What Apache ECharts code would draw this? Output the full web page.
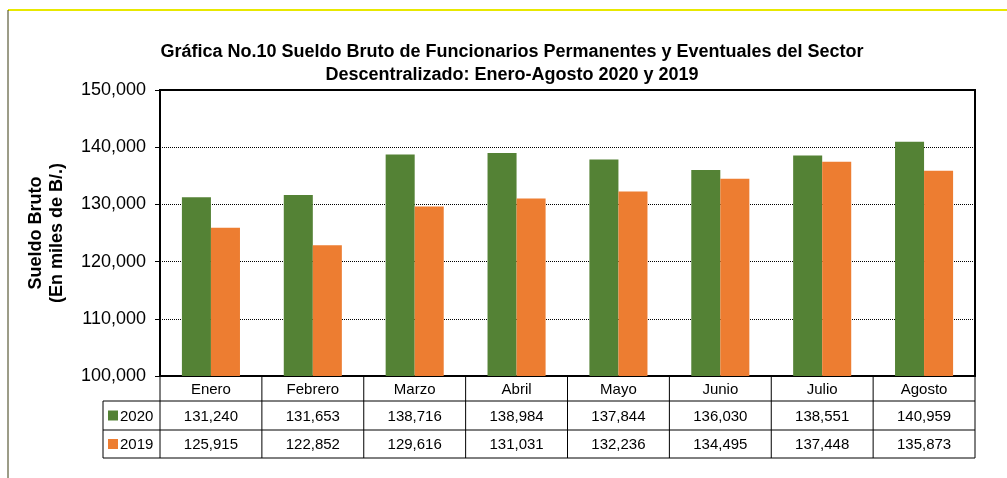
<!DOCTYPE html>
<html>
<head>
<meta charset="utf-8">
<script src="https://cdn.jsdelivr.net/npm/echarts@6/dist/echarts.min.js"></script>
<style>
  html, body { margin: 0; padding: 0; background: #fff; }
  #chart { width: 1007px; height: 478px; }
</style>
</head>
<body>
<div id="chart"></div>
<script>
const months = ["Enero", "Febrero", "Marzo", "Abril", "Mayo", "Junio", "Julio", "Agosto"];
const sueldo2020 = [131240, 131653, 138716, 138984, 137844, 136030, 138551, 140959];
const sueldo2019 = [125915, 122852, 129616, 131031, 132236, 134495, 137448, 135873];
const seriesNames = ["2020", "2019"];
const colors = ["#548235", "#ED7D31"];

const fmt = v => v.toLocaleString("en-US");
const font = "Liberation Sans, Arial, sans-serif";

const myChart = echarts.init(document.getElementById("chart"));

myChart.setOption({
  animation: false,
  title: {
    text: "Gráfica No.10 Sueldo Bruto de Funcionarios Permanentes y Eventuales del Sector\nDescentralizado: Enero-Agosto 2020 y 2019",
    left: 507,
    textAlign: "center",
    top: 36,
    textStyle: {
      fontFamily: "Liberation Sans Narrow, Arial Narrow, " + font,
      fontSize: 18,
      fontWeight: "bold",
      color: "#000",
      lineHeight: 23
    }
  },
  grid: { left: 160, right: 32, top: 90, bottom: 102, show: true, borderColor: "#000", borderWidth: 2 },
  xAxis: {
    type: "category",
    data: months,
    axisLine: { lineStyle: { color: "#000", width: 2 } },
    axisTick: { show: false },
    axisLabel: { show: false }
  },
  yAxis: {
    type: "value",
    min: 100000,
    max: 150000,
    interval: 10000,
    name: "Sueldo Bruto\n(En miles de B/.)",
    nameLocation: "middle",
    nameRotate: 90,
    nameGap: 92,
    nameTextStyle: { fontFamily: font, fontSize: 18, fontWeight: "bold", color: "#000", lineHeight: 21 },
    axisLine: { show: true, lineStyle: { color: "#000", width: 2 } },
    axisTick: { show: true, length: 5, lineStyle: { color: "#000" } },
    axisLabel: { formatter: v => fmt(v), fontFamily: font, fontSize: 18, color: "#000", margin: 14 },
    splitLine: { lineStyle: { color: "#000", type: [1, 1], width: 1 } }
  },
  series: [
    { name: seriesNames[0], type: "bar", data: sueldo2020, itemStyle: { color: colors[0] }, barGap: "0%", barCategoryGap: "43%" },
    { name: seriesNames[1], type: "bar", data: sueldo2019, itemStyle: { color: colors[1] } }
  ]
});

// data table under the plot
const xLeft = 160, xRight = 975, legLeft = 103;
const yAxis0 = 376, row1 = 401, row2 = 430, row3 = 458;
const step = (xRight - xLeft) / months.length;
const lineStyle = { stroke: "#000", lineWidth: 1 };
const g = [];
const hline = (x1, x2, y) => g.push({ type: "line", shape: { x1, y1: y, x2, y2: y }, style: lineStyle });
const vline = (x, y1, y2) => g.push({ type: "line", shape: { x1: x, y1, x2: x, y2 }, style: lineStyle });

hline(legLeft, xRight, row1);
hline(legLeft, xRight, row2);
hline(legLeft, xRight, row3);
vline(legLeft, row1, row3);
for (let i = 0; i <= months.length; i++) vline(xLeft + i * step, yAxis0, row3);

const text = (x, y, t) => g.push({
  type: "text", x, y,
  style: { text: t, fontFamily: font, fontSize: 15, fill: "#000", align: "center", verticalAlign: "middle" }
});

months.forEach((m, i) => {
  const cx = myChart.convertToPixel({ xAxisIndex: 0 }, i);
  text(cx, (yAxis0 + row1) / 2 + 1, m);
  text(cx, (row1 + row2) / 2 + 1, fmt(sueldo2020[i]));
  text(cx, (row2 + row3) / 2 + 1, fmt(sueldo2019[i]));
});

[row1, row2].forEach((top, k) => {
  const cy = top + (k === 0 ? row2 - row1 : row3 - row2) / 2;
  g.push({ type: "rect", shape: { x: 108, y: cy - 5, width: 10, height: 10 }, style: { fill: colors[k] } });
  g.push({
    type: "text", x: 120, y: cy + 1,
    style: { text: seriesNames[k], fontFamily: font, fontSize: 15, fill: "#000", align: "left", verticalAlign: "middle" }
  });
});

// frame lines of the page
g.push({ type: "line", shape: { x1: 8, y1: 10, x2: 1007, y2: 10 }, style: { stroke: "#E8E800", lineWidth: 2 } });
g.push({ type: "line", shape: { x1: 8, y1: 10, x2: 8, y2: 478 }, style: { stroke: "#3a3a10", lineWidth: 1 } });

myChart.setOption({ graphic: g });
</script>
</body>
</html>
